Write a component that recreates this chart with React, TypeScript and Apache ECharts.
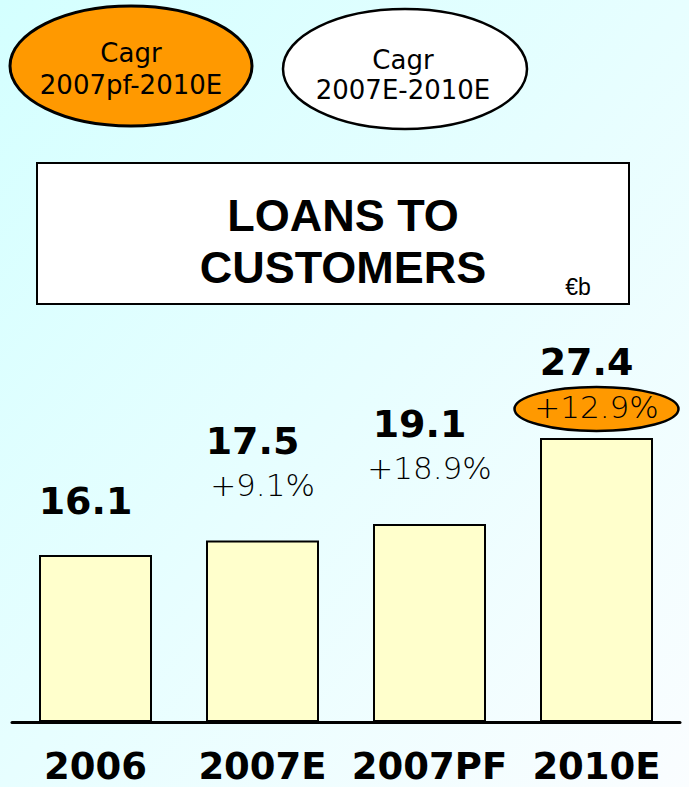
import React, { useEffect, useRef } from "react";
import * as echarts from "echarts";

const categories = ["2006", "2007E", "2007PF", "2010E"];
const values = [16.1, 17.5, 19.1, 27.4];
const growth = ["", "+9.1%", "+18.9%", "+12.9%"];
const highlighted = [false, false, false, true];

const cagrOrange = "Cagr\n2007pf-2010E";
const cagrWhite = "Cagr\n2007E-2010E";
const titleText = "LOANS TO\nCUSTOMERS";
const unitText = "€b";

export default function App() {
  const ref = useRef<HTMLDivElement>(null);
  useEffect(() => {
    if (!ref.current) return;
    const chart = echarts.init(ref.current, undefined, { renderer: "svg" });
    const sans = "'DejaVu Sans', Verdana, sans-serif";
    const arial = "'Liberation Sans', Arial, sans-serif";

    const data = values.map((v, i) => {
      const hasGrowth = growth[i] !== "";
      return {
        value: v,
        label: {
          show: true,
          position: "top",
          distance: !hasGrowth ? 32 : highlighted[i] ? 8 : 34,
          formatter: () =>
            hasGrowth ? `{v|${v.toFixed(1)}}\n{p|${growth[i]}}` : `{v|${v.toFixed(1)}}`,
          rich: {
            v: {
              fontFamily: sans,
              fontWeight: "bold",
              fontSize: 38,
              lineHeight: 44,
              color: "#000",
              padding: [0, 20, 0, 0],
            },
            p: {
              fontFamily: sans,
              fontWeight: 200,
              fontSize: 31,
              lineHeight: highlighted[i] ? 46 : 44,
              color: "#000",
            },
          },
        },
      };
    });

    const option: any = {
      animation: false,
      backgroundColor: {
        type: "linear",
        x: 0,
        y: 0,
        x2: 1,
        y2: 1,
        colorStops: [
          { offset: 0, color: "#D4FFFF" },
          { offset: 1, color: "#FAFDFF" },
        ],
      },
      grid: { left: 12, right: 9, top: 411, bottom: 65, containLabel: false },
      xAxis: {
        type: "category",
        data: categories,
        axisLine: { show: true, lineStyle: { color: "#000", width: 3 } },
        axisTick: { show: false },
        axisLabel: {
          interval: 0,
          margin: 27,
          lineHeight: 34,
          color: "#000",
          fontFamily: sans,
          fontWeight: "bold",
          fontSize: 37,
        },
      },
      yAxis: {
        type: "value",
        min: 0,
        max: 30,
        show: false,
        splitLine: { show: false },
      },
      series: [
        {
          type: "bar",
          barWidth: 113,
          itemStyle: { color: "#FFFFCC", borderColor: "#000", borderWidth: 2 },
          data,
        },
      ],
    };
    chart.setOption(option);

    const txt = (id: string, x: number, y: number, text: string, font: string, size: number, lh: number, bold = false) => ({
      id,
      type: "text",
      x,
      y,
      z: 11,
      style: {
        text,
        fill: "#000",
        font: `${bold ? "bold " : ""}${size}px ${font}`,
        fontSize: size,
        fontWeight: bold ? "bold" : "normal",
        fontFamily: font,
        lineHeight: lh,
        align: "center",
        verticalAlign: "middle",
        textAlign: "center",
        textVerticalAlign: "middle",
      },
    });

    const graphics: any[] = [
      {
        id: "cagrA",
        type: "ellipse",
        shape: { cx: 131, cy: 66, rx: 121, ry: 60 },
        style: { fill: "#FF9900", stroke: "#000", lineWidth: 3 },
        z: 10,
      },
      txt("cagrAText", 131, 69, cagrOrange, sans, 26, 32),
      {
        id: "cagrB",
        type: "ellipse",
        shape: { cx: 405, cy: 69, rx: 122, ry: 60 },
        style: { fill: "#FFFFFF", stroke: "#000", lineWidth: 2.5 },
        z: 10,
      },
      txt("cagrBText", 403, 75, cagrWhite, sans, 26, 30),
      {
        id: "titleBox",
        type: "rect",
        shape: { x: 37, y: 163, width: 592, height: 141 },
        style: { fill: "#FFFFFF", stroke: "#000", lineWidth: 2 },
        z: 10,
      },
      txt("titleText", 343, 241, titleText, arial, 45, 52, true),
      txt("unitText", 578, 287, unitText, arial, 23, 24),
    ];

    values.forEach((v, i) => {
      if (!highlighted[i]) return;
      const pt = chart.convertToPixel({ xAxisIndex: 0, yAxisIndex: 0 }, [i, v]) as number[];
      graphics.push({
        id: "hl" + i,
        type: "ellipse",
        shape: { cx: pt[0], cy: pt[1] - 29, rx: 82, ry: 22 },
        style: { fill: "#FF9900", stroke: "#000", lineWidth: 2.5 },
        z: 1,
      });
    });

    chart.setOption({ graphic: graphics });
    return () => chart.dispose();
  }, []);

  return (
    <div
      ref={ref}
      style={{ position: "fixed", left: 0, top: 0, width: 689, height: 787 }}
    />
  );
}
